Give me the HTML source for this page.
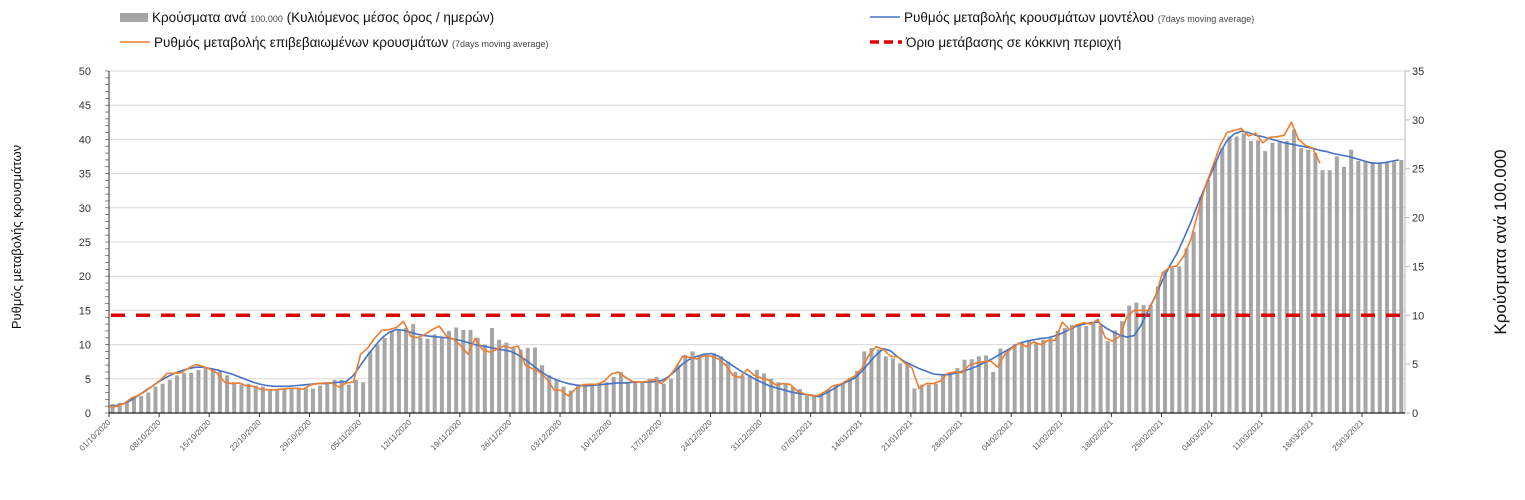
<!DOCTYPE html>
<html><head><meta charset="utf-8">
<style>
body{margin:0;background:#fff;width:1525px;height:495px;overflow:hidden;font-family:"Liberation Sans","DejaVu Sans",sans-serif;}
svg text{font-family:"Liberation Sans","DejaVu Sans",sans-serif;}
</style></head>
<body>
<svg id="chart" width="1525" height="495" viewBox="0 0 1525 495" xmlns="http://www.w3.org/2000/svg">
 <g>
  <g>
   <rect x="120" y="13" width="28" height="9" fill="#a6a6a6"/>
   <text x="152" y="22" font-size="13.5" fill="#111">Κρούσματα ανά <tspan font-size="9" fill="#444">100.000</tspan> (Κυλιόμενος μέσος όρος / ημερών)</text>
  </g>
  <g>
   <line x1="120" y1="42" x2="150" y2="42" stroke="#ed7d31" stroke-width="1.5"/>
   <text x="154" y="47" font-size="13.5" fill="#111">Ρυθμός μεταβολής επιβεβαιωμένων κρουσμάτων <tspan font-size="9" fill="#444">(7days moving average)</tspan></text>
  </g>
  <g>
   <line x1="870" y1="17" x2="900" y2="17" stroke="#4472c4" stroke-width="1.5"/>
   <text x="904" y="22" font-size="13.5" fill="#111">Ρυθμός μεταβολής κρουσμάτων μοντέλου <tspan font-size="9" fill="#444">(7days moving average)</tspan></text>
  </g>
  <g>
   <line x1="870" y1="42" x2="902" y2="42" stroke="#e00000" stroke-width="3.5" stroke-dasharray="9,5"/>
   <text x="906" y="47" font-size="13.5" fill="#111">Όριο μετάβασης σε κόκκινη περιοχή</text>
  </g>
 </g>
 <text transform="translate(21,237) rotate(-90)" text-anchor="middle" font-size="13" fill="#111">Ρυθμός μεταβολής κρουσμάτων</text>
 <text transform="translate(1506,242) rotate(-90)" text-anchor="middle" font-size="17" fill="#111">Κρούσματα ανά 100.000</text>
 <g id="plot"></g>
</svg>
<script>
const leftTicks=[0,5,10,15,20,25,30,35,40,45,50];
const rightTicks=[0,5,10,15,20,25,30,35];
const xTickLabels=["01/10/2020","08/10/2020","15/10/2020","22/10/2020","29/10/2020","05/11/2020","12/11/2020","19/11/2020","26/11/2020","03/12/2020","10/12/2020","17/12/2020","24/12/2020","31/12/2020","07/01/2021","14/01/2021","21/01/2021","28/01/2021","04/02/2021","11/02/2021","18/02/2021","25/02/2021","04/03/2021","11/03/2021","18/03/2021","25/03/2021"];
const casesPer100k=[0.9,1.05,1.1,1.5,1.75,2.1,2.7,3.0,3.4,3.85,4.1,4.1,4.4,4.55,4.55,4.3,3.85,3.15,2.9,3.0,2.8,2.7,2.4,2.4,2.4,2.5,2.6,2.6,2.5,2.8,3.0,3.4,3.4,2.9,3.4,3.15,6.3,7.0,7.7,8.4,8.5,8.7,9.1,7.7,7.6,8.05,7.8,8.4,8.75,8.5,8.5,7.7,7.0,8.7,7.5,7.2,6.65,6.5,6.65,6.7,
4.9,3.85,3.4,2.7,2.3,2.8,3.0,3.0,3.1,3.15,3.7,4.2,3.15,3.15,3.2,3.5,3.7,3.0,3.5,4.9,5.95,6.3,5.8,5.9,6.1,5.8,5.25,4.2,3.85,3.85,4.4,4.05,3.5,3.15,2.95,2.65,2.45,1.75,1.75,
2.0,2.4,2.9,3.1,3.6,4.3,6.3,6.65,6.5,5.8,5.6,5.1,4.9,2.5,2.9,2.9,3.0,3.9,4.05,4.6,5.45,5.5,5.8,5.9,4.2,6.6,6.3,7.05,7.15,7.4,7.2,7.5,7.7,8.4,8.7,9.0,8.95,8.9,9.3,8.9,7.35,8.45,9.4,11.0,
11.3,11.05,11.05,12.95,14.5,14.85,15.0,16.85,18.55,22.1,23.85,25.7,27.1,28.3,28.3,28.6,27.85,27.9,26.8,27.65,27.7,27.85,29.0,27.1,26.95,26.6,24.85,24.85,26.25,25.2,26.95,25.8,25.8,25.6,25.6,25.6,25.7,25.9];
const confirmedRate=[0.9,1.0,1.4,2.2,2.6,3.2,4.0,4.8,5.8,5.8,5.9,6.6,7.1,6.8,6.4,5.8,4.5,4.3,4.4,4.0,3.9,3.5,3.4,3.4,3.5,3.6,3.6,3.5,4.1,4.3,4.4,4.4,3.8,4.4,4.5,8.6,9.5,11,12.1,12.2,12.5,13.4,11.2,11.0,11.5,12.2,12.7,11.2,10.8,9.8,8.6,10.9,9.3,8.9,9.3,9.8,9.5,9.8,7.0,6.5,
6.0,5.0,3.4,3.3,2.5,3.5,4.1,4.2,4.2,4.6,5.7,6.0,5.2,4.6,4.5,4.6,4.9,4.3,5.2,6.6,8.3,8.1,7.9,8.4,8.3,7.9,7.0,5.5,5.2,6.4,5.5,5.1,4.8,4.1,4.3,4.2,3.2,2.8,2.5,2.6,3.2,4.0,
4.2,4.8,5.4,6.5,8.5,9.7,9.3,8.3,8.2,7.3,6.6,3.6,4.3,4.3,4.7,5.8,6.0,5.9,7.0,7.3,7.5,7.6,6.7,8.6,9.5,10.2,9.7,10.4,10.0,10.6,10.6,13.3,12.2,12.9,13.2,13.0,13.7,11.0,
10.5,11.2,14.0,15.0,15.0,15.0,17.0,20.5,21.3,21.5,23.0,25.5,29.5,33.2,36.0,39.0,41.0,41.3,41.6,40.5,40.9,39.5,40.3,40.4,40.6,42.5,40.0,39.1,38.7,36.5];
const modelRate=[1.0,1.1,1.4,1.9,2.6,3.3,4.0,4.7,5.3,5.8,6.2,6.5,6.7,6.7,6.5,6.3,6.0,5.7,5.3,4.9,4.5,4.2,4.0,3.9,3.9,3.9,4.0,4.1,4.2,4.3,4.3,4.4,4.5,4.6,5.5,7.0,8.5,9.8,11.0,11.8,12.2,12.1,11.8,11.5,11.3,11.2,11.1,11.0,10.8,10.6,10.3,10.0,9.8,9.6,9.4,9.2,9.0,8.5,7.8,7.0,
6.2,5.5,5.0,4.6,4.3,4.1,4.0,4.0,4.1,4.2,4.3,4.4,4.4,4.5,4.5,4.5,4.6,4.7,5.3,6.2,7.2,7.9,8.3,8.6,8.7,8.3,7.6,6.9,6.2,5.6,5.0,4.5,4.0,3.7,3.4,3.1,2.9,2.7,2.6,
2.4,2.9,3.5,4.1,4.6,5.1,6.1,7.3,8.5,9.4,9.1,8.2,7.5,7.0,6.5,6.1,5.7,5.6,5.6,5.8,6.1,6.4,6.8,7.3,7.8,8.4,9.0,9.6,10.2,10.5,10.7,10.9,11.0,11.3,11.7,12.2,12.7,13.0,13.2,
13.3,12.5,11.9,11.4,11.1,11.3,12.8,15.0,17.1,19.4,21.5,23.3,25.6,28.0,30.7,33.2,35.5,38.0,39.8,40.8,41.2,41.0,40.6,40.4,40.1,39.8,39.5,39.3,39.1,38.9,38.7,38.4,38.2,37.9,37.7,37.5,37.2,36.9,36.6,36.5,36.6,36.8,37.0];
const redThreshold=[10];

const NS="http://www.w3.org/2000/svg";
const X0=109,X1=1405,Y0=413,Y1=71,DAY=7.16;
const yL=v=>Y0-(Y0-Y1)*v/50;
const yR=v=>Y0-(Y0-Y1)*v/35;
const xLine=i=>110+DAY*i;
const xBar=i=>112.5+DAY*i;
const xTick=i=>X0+DAY*7*i;
const plot=document.getElementById('plot');
function mk(tag,attrs,parent){const e=document.createElementNS(NS,tag);for(const k in attrs)e.setAttribute(k,attrs[k]);(parent||plot).appendChild(e);return e;}

const grid=mk('g',{});


leftTicks.forEach(v=>{
 if(v>0) mk('line',{x1:X0,x2:X1,y1:yL(v),y2:yL(v),stroke:'#d9d9d9','stroke-width':1},grid);
 const t=mk('text',{x:91,y:yL(v)+4,'text-anchor':'end','font-size':11,fill:'#333'});
 t.textContent=v;
 
 
});
for(let v=0;v<=50;v++){mk('line',{x1:X0-4,x2:X0,y1:yL(v),y2:yL(v),stroke:'#555','stroke-width':0.7});}
rightTicks.forEach(v=>{
 mk('line',{x1:X1,x2:X1+5,y1:yR(v),y2:yR(v),stroke:'#bbb','stroke-width':1});
 const t=mk('text',{x:1412,y:yR(v)+4,'font-size':11,fill:'#333'});
 t.textContent=v;
 
 
});

const bars=mk('g',{});


casesPer100k.forEach((v,i)=>{
 const r=mk('rect',{x:xBar(i)-2,y:yR(v),width:4,height:Y0-yR(v),fill:'#a6a6a6'},bars);
 
 
});

const red=mk('line',{x1:X0+2,x2:X1-4,y1:yR(redThreshold[0]),y2:yR(redThreshold[0]),stroke:'#e00000','stroke-width':3.5,'stroke-dasharray':'14,11'});



const pb=mk('polyline',{points:modelRate.map((v,i)=>xLine(i)+','+yL(v)).join(' '),fill:'none',stroke:'#4472c4','stroke-width':1.6,'stroke-linejoin':'round'});


const po=mk('polyline',{points:confirmedRate.map((v,i)=>xLine(i)+','+yL(v)).join(' '),fill:'none',stroke:'#ed7d31','stroke-width':1.6,'stroke-linejoin':'round'});



mk('line',{x1:X0,x2:X0,y1:Y1,y2:Y0,stroke:'#333','stroke-width':1});
mk('line',{x1:X1,x2:X1,y1:Y1,y2:Y0,stroke:'#bbb','stroke-width':1});
mk('line',{x1:X0,x2:X1,y1:Y0,y2:Y0,stroke:'#222','stroke-width':1.2});
xTickLabels.forEach((s,i)=>{
 const x=xTick(i);
 mk('line',{x1:x,x2:x,y1:Y0,y2:Y0+4,stroke:'#333','stroke-width':1});
 const t=mk('text',{x:x+2,y:Y0+10,'text-anchor':'end','font-size':8,fill:'#555',transform:'rotate(-45 '+(x+2)+' '+(Y0+10)+')'});
 t.textContent=s;
 
 
});
</script>
</body></html>
